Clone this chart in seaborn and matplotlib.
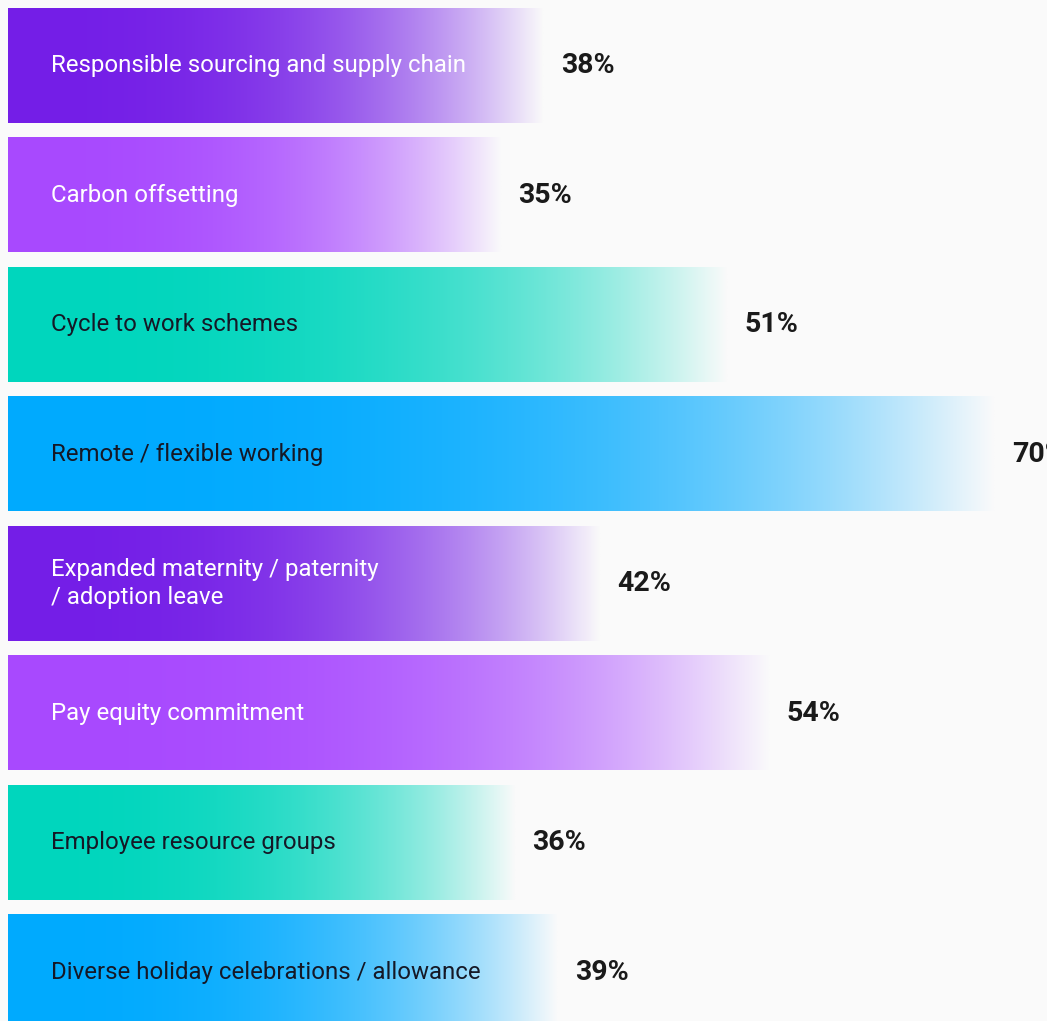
import numpy as np
import pandas as pd
import matplotlib
matplotlib.use("Agg")
import matplotlib.pyplot as plt
import seaborn as sns
from matplotlib.colors import to_rgb

# Share of respondents offering each initiative (%)
initiatives = [
    "Responsible sourcing and supply chain",
    "Carbon offsetting",
    "Cycle to work schemes",
    "Remote / flexible working",
    "Expanded maternity / paternity\n/ adoption leave",
    "Pay equity commitment",
    "Employee resource groups",
    "Diverse holiday celebrations / allowance",
]
shares = [38, 35, 51, 70, 42, 54, 36, 39]
value_labels = ["38%", "35%", "51%", "70%", "42%", "54%", "36%", "39%"]

bar_colors = ["#741ee7", "#a849ff", "#00d6bd", "#00aaff",
              "#741ee7", "#a849ff", "#00d6bd", "#00aaff"]
text_colors = ["white", "white", "#151826", "#151826",
               "white", "white", "#151826", "#151826"]

BG = "#fafafa"

sns.set_theme(style="white")
plt.rcParams["font.family"] = ["Roboto", "DejaVu Sans"]

fig = plt.figure(figsize=(10.47, 10.21), dpi=100, facecolor=BG)
ax = fig.add_axes([0, 0, 1, 1])
ax.set_facecolor(BG)

df = pd.DataFrame({"initiative": initiatives, "share": shares})
sns.barplot(data=df, x="share", y="initiative", orient="h",
            width=0.888, color="white", ax=ax)

# pixel-based scale: bars start 8px from the left, 14.1px per percentage point
px_per_pct = 14.1
ax.set_xlim(-8 / px_per_pct, (1047 - 8) / px_per_pct)
pitch = 129.5
ax.set_ylim((1021 - 65.5) / pitch, -65.5 / pitch)

# replace flat fills with horizontal colour-to-background gradients
n = 400
t = np.linspace(0, 1, n)
fade = t ** 2.8
for patch, col in zip(ax.patches, bar_colors):
    x0, y0 = patch.get_x(), patch.get_y()
    w, h = patch.get_width(), patch.get_height()
    rgb = np.array(to_rgb(col))
    bg = np.array(to_rgb(BG))
    grad = rgb[None, :] * (1 - fade[:, None]) + bg[None, :] * fade[:, None]
    img = grad[None, :, :]
    ax.imshow(img, extent=[x0, x0 + w, y0 + h, y0], aspect="auto",
              interpolation="bilinear", zorder=2)
    patch.set_visible(False)

for i, (lab, v, vl, tc) in enumerate(zip(initiatives, shares, value_labels, text_colors)):
    ax.text(43 / px_per_pct, i, lab, color=tc, fontsize=17.3,
            va="center", ha="left", linespacing=1.3, zorder=3)
    ax.text(v + 17 / px_per_pct, i, vl, color="#1a1a1a", fontsize=20.5,
            fontweight="bold", va="center", ha="left", zorder=3)

ax.set_axis_off()
fig.savefig("out.png", dpi=100, facecolor=BG)
